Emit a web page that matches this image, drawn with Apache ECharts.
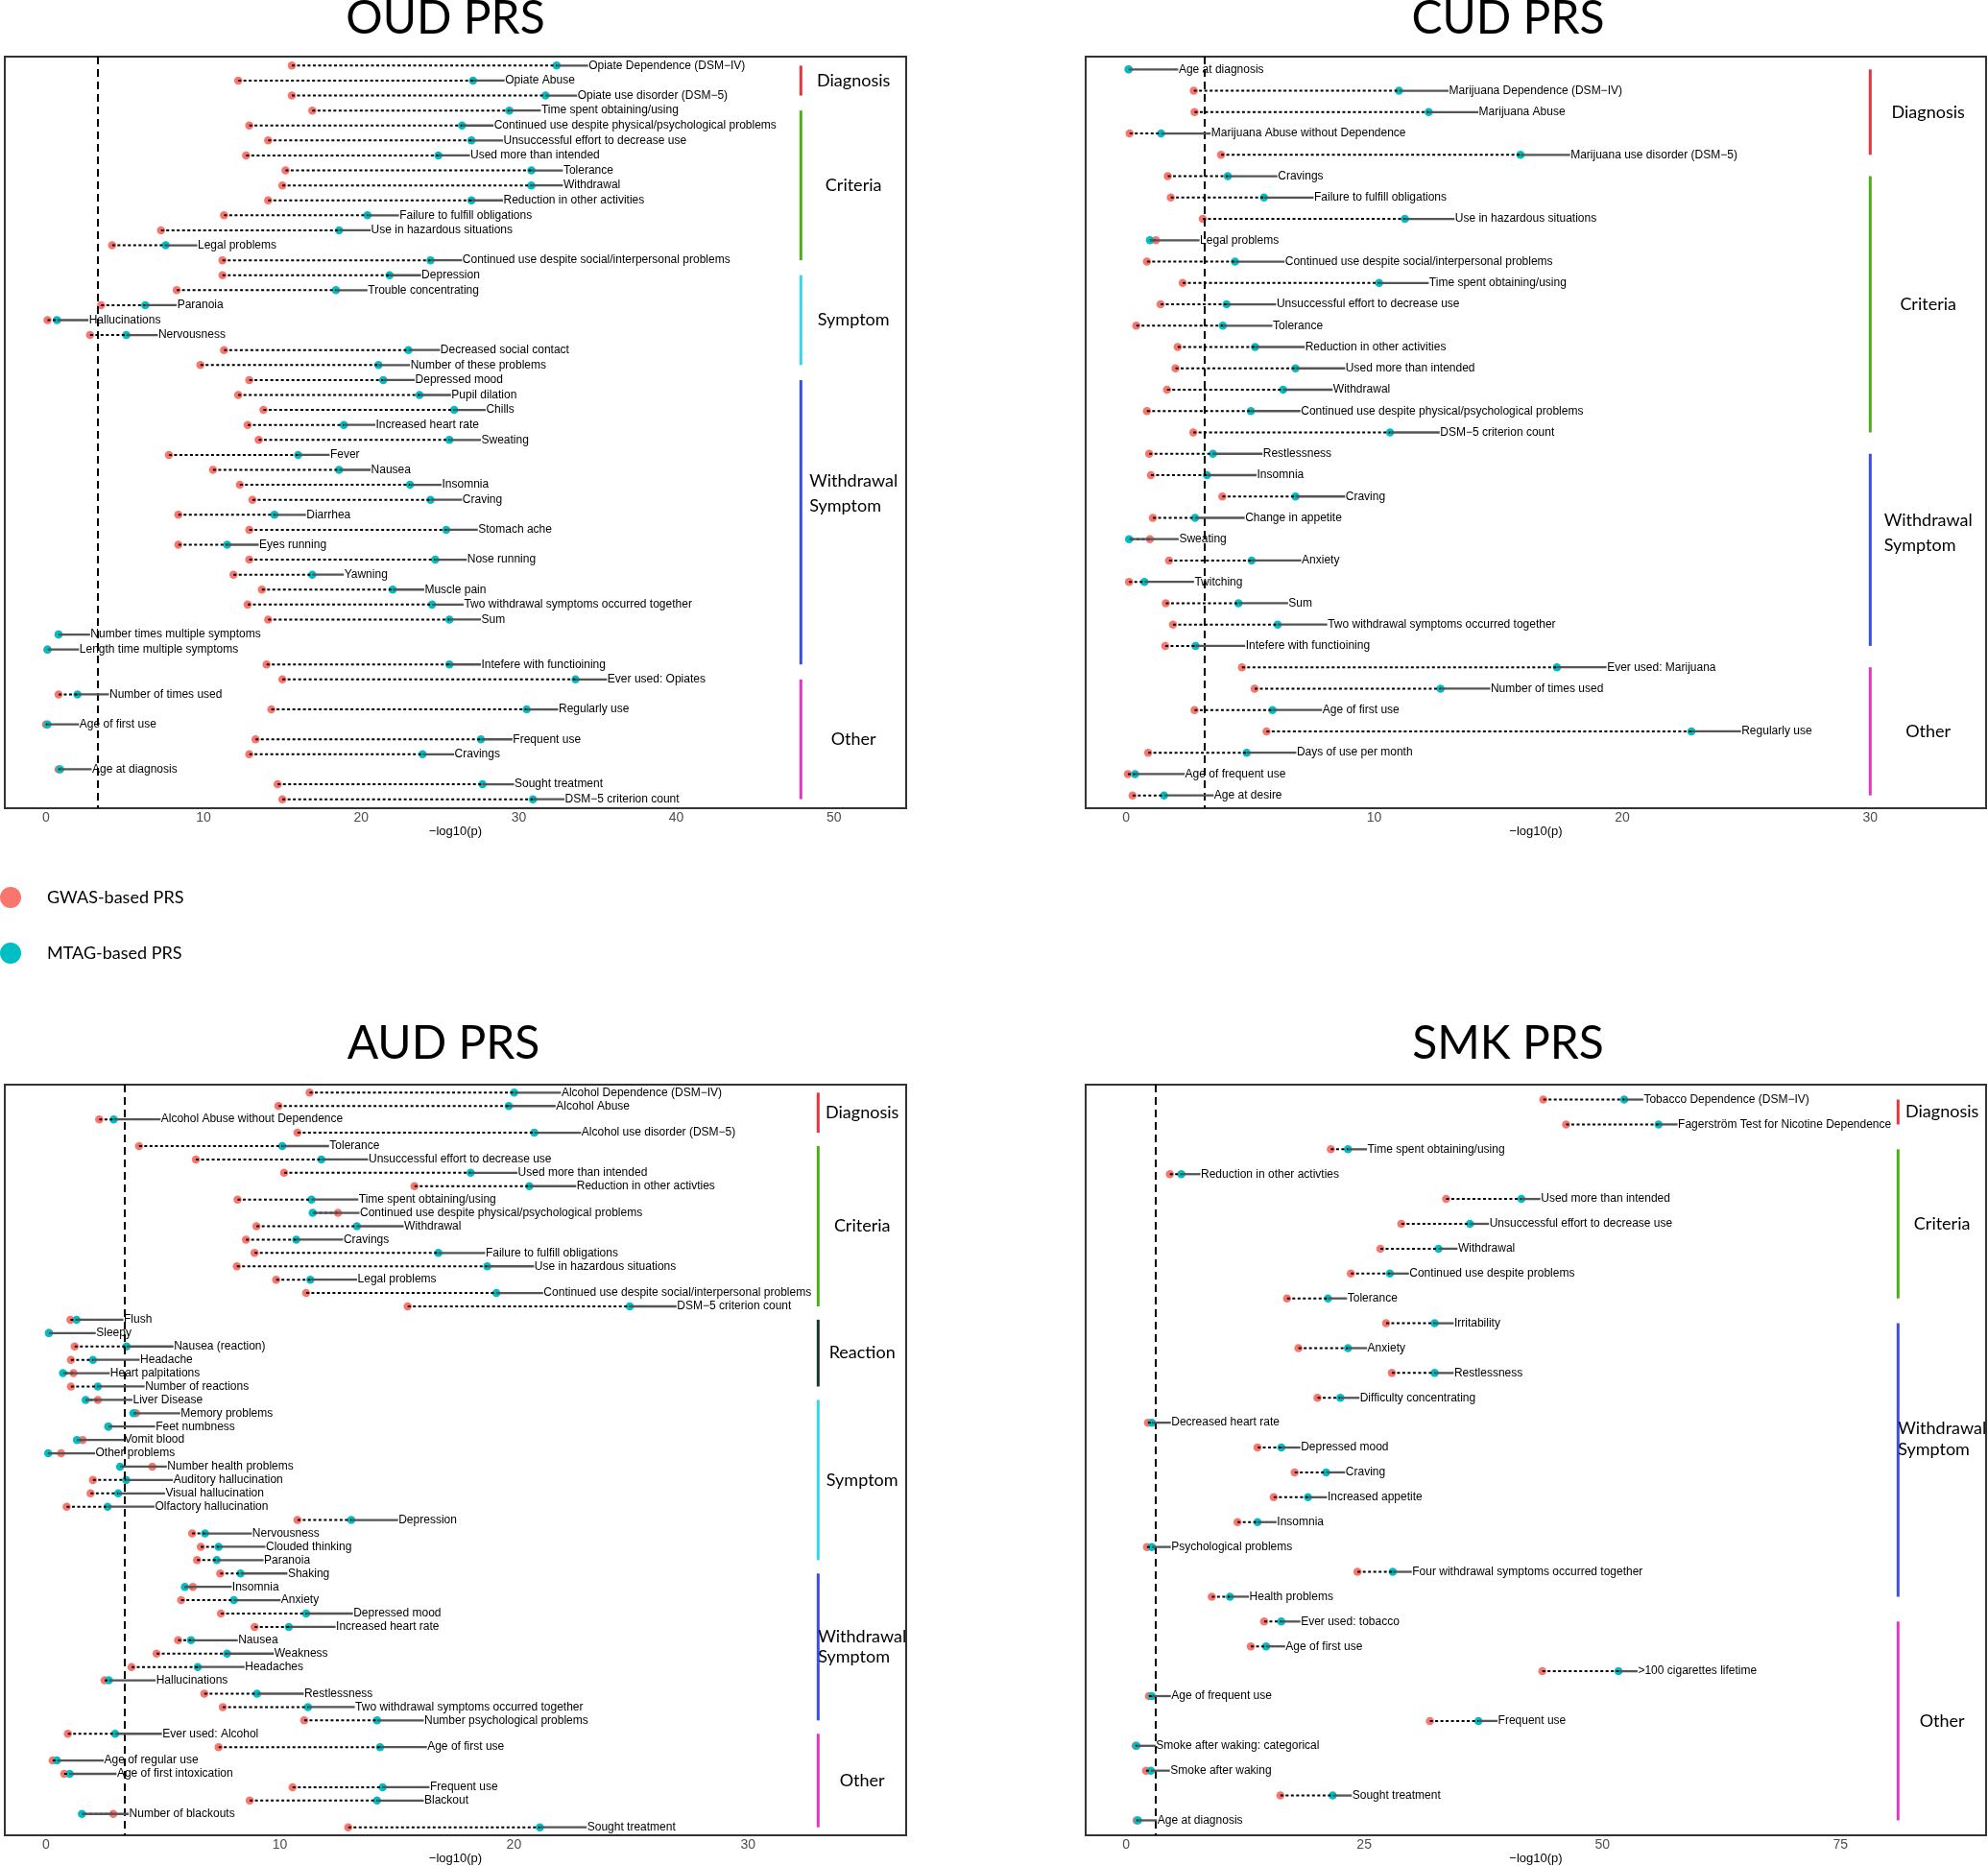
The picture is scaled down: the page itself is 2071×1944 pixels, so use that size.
<!DOCTYPE html>
<html><head><meta charset="utf-8">
<script src="https://cdn.jsdelivr.net/npm/echarts@6/dist/echarts.min.js"></script>
<style>html,body{margin:0;padding:0;background:#fff}#c{width:2071px;height:1944px}</style>
</head><body><div id="c"></div>
<script>
// ---------------- DATA ----------------
const OUD_LABELS = ['Opiate Dependence (DSM−IV)','Opiate Abuse','Opiate use disorder (DSM−5)','Time spent obtaining/using','Continued use despite physical/psychological problems','Unsuccessful effort to decrease use','Used more than intended','Tolerance','Withdrawal','Reduction in other activities','Failure to fulfill obligations','Use in hazardous situations','Legal problems','Continued use despite social/interpersonal problems','Depression','Trouble concentrating','Paranoia','Hallucinations','Nervousness','Decreased social contact','Number of these problems','Depressed mood','Pupil dilation','Chills','Increased heart rate','Sweating','Fever','Nausea','Insomnia','Craving','Diarrhea','Stomach ache','Eyes running','Nose running','Yawning','Muscle pain','Two withdrawal symptoms occurred together','Sum','Number times multiple symptoms','Length time multiple symptoms','Intefere with functioining','Ever used: Opiates','Number of times used','Regularly use','Age of first use','Frequent use','Cravings','Age at diagnosis','Sought treatment','DSM−5 criterion count'];
const OUD_GWAS = [15.6,12.2,15.6,16.9,12.9,14.1,12.7,15.2,15.0,14.1,11.3,7.3,4.2,11.2,11.2,8.3,3.5,0.1,2.8,11.3,9.8,12.9,12.2,13.8,12.8,13.5,7.8,10.6,12.3,13.1,8.4,12.9,8.4,12.9,11.9,13.7,12.8,14.1,0.8,0.1,14.0,15.0,0.8,14.3,0.0,13.3,12.9,0.8,14.7,15.0];
const OUD_MTAG = [32.4,27.1,31.7,29.4,26.4,27.0,24.9,30.8,30.8,27.0,20.4,18.6,7.6,24.4,21.8,18.4,6.3,0.7,5.1,23.0,21.1,21.4,23.7,25.9,18.9,25.6,16.0,18.6,23.1,24.4,14.5,25.4,11.5,24.7,16.9,22.0,24.5,25.6,0.8,0.1,25.6,33.6,2.0,30.5,0.1,27.6,23.9,0.9,27.7,30.9];
const OUD_GROUPS = ['Diagnosis','Criteria','Symptom','Withdrawal\nSymptom','Other'];
const OUD_GROUP_FIRST = [0,3,14,21,41];
const OUD_GROUP_LAST = [2,13,20,40,49];
const OUD_TICKS = [0,10,20,30,40,50];

const CUD_LABELS = ['Age at diagnosis','Marijuana Dependence (DSM−IV)','Marijuana Abuse','Marijuana Abuse without Dependence','Marijuana use disorder (DSM−5)','Cravings','Failure to fulfill obligations','Use in hazardous situations','Legal problems','Continued use despite social/interpersonal problems','Time spent obtaining/using','Unsuccessful effort to decrease use','Tolerance','Reduction in other activities','Used more than intended','Withdrawal','Continued use despite physical/psychological problems','DSM−5 criterion count','Restlessness','Insomnia','Craving','Change in appetite','Sweating','Anxiety','Twitching','Sum','Two withdrawal symptoms occurred together','Intefere with functioining','Ever used: Marijuana','Number of times used','Age of first use','Regularly use','Days of use per month','Age of frequent use','Age at desire'];
const CUD_GWAS = [0.1,2.73,2.76,0.14,3.83,1.68,1.8,3.09,1.2,0.84,2.28,1.39,0.41,2.08,1.99,1.65,0.84,2.71,0.93,1.0,3.88,1.08,0.96,1.73,0.12,1.6,1.89,1.58,4.67,5.18,2.76,5.66,0.89,0.07,0.26];
const CUD_MTAG = [0.1,11.0,12.2,1.41,15.9,4.1,5.56,11.24,0.96,4.39,10.2,4.05,3.9,5.2,6.83,6.33,5.03,10.64,3.5,3.26,6.83,2.78,0.12,5.06,0.74,4.53,6.11,2.8,17.37,12.68,5.9,22.79,4.86,0.36,1.53];
const CUD_GROUPS = ['Diagnosis','Criteria','Withdrawal\nSymptom','Other'];
const CUD_GROUP_FIRST = [0,5,18,28];
const CUD_GROUP_LAST = [4,17,27,34];
const CUD_TICKS = [0,10,20,30];

const AUD_LABELS = ['Alcohol Dependence (DSM−IV)','Alcohol Abuse','Alcohol Abuse without Dependence','Alcohol use disorder (DSM−5)','Tolerance','Unsuccessful effort to decrease use','Used more than intended','Reduction in other activties','Time spent obtaining/using','Continued use despite physical/psychological problems','Withdrawal','Cravings','Failure to fulfill obligations','Use in hazardous situations','Legal problems','Continued use despite social/interpersonal problems','DSM−5 criterion count','Flush','Sleepy','Nausea (reaction)','Headache','Heart palpitations','Number of reactions','Liver Disease','Memory problems','Feet numbness','Vomit blood','Other problems','Number health problems','Auditory hallucination','Visual hallucination','Olfactory hallucination','Depression','Nervousness','Clouded thinking','Paranoia','Shaking','Insomnia','Anxiety','Depressed mood','Increased heart rate','Nausea','Weakness','Headaches','Hallucinations','Restlessness','Two withdrawal symptoms occurred together','Number psychological problems','Ever used: Alcohol','Age of first use','Age of regular use','Age of first intoxication','Frequent use','Blackout','Number of blackouts','Sought treatment'];
const AUD_GWAS = [11.27,9.94,2.28,10.75,3.98,6.41,10.18,15.75,8.19,12.48,9.0,8.55,8.92,8.16,9.84,11.12,15.46,1.05,0.13,1.23,1.07,1.18,1.07,2.22,3.85,2.67,1.57,0.65,4.55,2.01,1.91,0.89,10.75,6.25,6.62,6.46,7.45,6.28,5.78,7.48,8.92,5.65,4.73,3.66,2.51,6.77,7.56,11.04,0.94,7.38,0.29,0.78,10.54,8.71,2.88,12.92];
const AUD_MTAG = [20.01,19.78,2.9,20.87,10.1,11.77,18.15,20.66,11.35,11.4,13.29,10.7,16.77,18.86,11.3,19.25,24.95,1.31,0.13,3.45,2.01,0.73,2.22,1.7,3.74,2.67,1.33,0.1,3.17,3.43,3.09,2.64,13.05,6.8,7.38,7.3,8.32,5.94,8.03,11.12,10.38,6.2,7.74,6.49,2.69,9.02,11.2,14.15,2.96,14.28,0.47,1.02,14.39,14.15,1.54,21.11];
const AUD_GROUPS = ['Diagnosis','Criteria','Reaction','Symptom','Withdrawal\nSymptom','Other'];
const AUD_GROUP_FIRST = [0,4,17,23,36,48];
const AUD_GROUP_LAST = [3,16,22,35,47,55];
const AUD_TICKS = [0,10,20,30];

const SMK_LABELS = ['Tobacco Dependence (DSM−IV)','Fagerström Test for Nicotine Dependence','Time spent obtaining/using','Reduction in other activties','Used more than intended','Unsuccessful effort to decrease use','Withdrawal','Continued use despite problems','Tolerance','Irritability','Anxiety','Restlessness','Difficulty concentrating','Decreased heart rate','Depressed mood','Craving','Increased appetite','Insomnia','Psychological problems','Four withdrawal symptoms occurred together','Health problems','Ever used: tobacco','Age of first use','>100 cigarettes lifetime','Age of frequent use','Frequent use','Smoke after waking: categorical','Smoke after waking','Sought treatment','Age at diagnosis'];
const SMK_GWAS = [43.8,46.2,21.5,4.6,33.6,28.9,26.7,23.6,16.9,27.3,18.1,27.9,20.1,2.3,13.8,17.7,15.5,11.7,2.2,24.3,9.0,14.5,13.1,43.7,2.4,31.9,1.0,2.1,16.2,1.1];
const SMK_MTAG = [52.3,55.9,23.3,5.8,41.5,36.1,32.8,27.7,21.2,32.4,23.3,32.4,22.5,2.7,16.3,21.0,19.1,13.8,2.7,28.0,10.9,16.3,14.7,51.7,2.7,37.0,1.1,2.6,21.7,1.25];
const SMK_GROUPS = ['Diagnosis','Criteria','Withdrawal\nSymptom','Other'];
const SMK_GROUP_FIRST = [0,2,9,21];
const SMK_GROUP_LAST = [1,8,20,29];
const SMK_TICKS = [0,25,50,75];

const LEGEND_NAMES = ['GWAS-based PRS','MTAG-based PRS'];

// ---------------- STYLE / LAYOUT ----------------
const RED = '#F8766D', TEAL = '#00BFC4';
const GROUP_COLORS = {'Diagnosis':'#E8343C','Criteria':'#4CAF18','Symptom':'#35D6EA','Withdrawal\nSymptom':'#3B4EE6','Other':'#E535C5','Reaction':'#17382A'};
const LABEL_OFFSET = 2; // data units from MTAG point to label
const ROW_FONT = '12px "Liberation Sans", Arial, sans-serif';
const GROUP_FONT = '18px Lato, sans-serif';

const measureCtx = document.createElement('canvas').getContext('2d');
function textW(t, font){ measureCtx.font = font; return measureCtx.measureText(t).width; }

const panels = [
  {title:'OUD PRS', tx:464, ty:20, labels:OUD_LABELS, gwas:OUD_GWAS, mtag:OUD_MTAG, groups:OUD_GROUPS, gFirst:OUD_GROUP_FIRST, gLast:OUD_GROUP_LAST, ticks:OUD_TICKS,
   grid:{left:5, top:59, width:939, height:783}, xMin:-2.61, xMax:54.58, thr:3.30, bx:47.9, lh:26, wOff:-30},
  {title:'CUD PRS', tx:1571, ty:20, labels:CUD_LABELS, gwas:CUD_GWAS, mtag:CUD_MTAG, groups:CUD_GROUPS, gFirst:CUD_GROUP_FIRST, gLast:CUD_GROUP_LAST, ticks:CUD_TICKS,
   grid:{left:1131, top:59, width:938, height:783}, xMin:-1.63, xMax:34.67, thr:3.16, bx:30.0, lh:26, wOff:-18},
  {title:'AUD PRS', tx:462, ty:1088, labels:AUD_LABELS, gwas:AUD_GWAS, mtag:AUD_MTAG, groups:AUD_GROUPS, gFirst:AUD_GROUP_FIRST, gLast:AUD_GROUP_LAST, ticks:AUD_TICKS,
   grid:{left:5, top:1130, width:939, height:783}, xMin:-1.755, xMax:36.76, thr:3.35, bx:33.0, lh:21, wOff:0},
  {title:'SMK PRS', tx:1571, ty:1088, labels:SMK_LABELS, gwas:SMK_GWAS, mtag:SMK_MTAG, groups:SMK_GROUPS, gFirst:SMK_GROUP_FIRST, gLast:SMK_GROUP_LAST, ticks:SMK_TICKS,
   grid:{left:1131, top:1130, width:938, height:783}, xMin:-4.24, xMax:90.29, thr:3.11, bx:81.05, lh:22, wOff:-22}
];

const grids = [], xAxes = [], yAxes = [], series = [], graphics = [];
panels.forEach((p, i) => {
  const n = p.labels.length;
  grids.push(Object.assign({show:true, borderColor:'#333', borderWidth:2, backgroundColor:'transparent'}, p.grid));
  xAxes.push({type:'value', gridIndex:i, min:p.xMin, max:p.xMax,
    axisLine:{show:false}, axisTick:{show:false}, splitLine:{show:false},
    axisLabel:{customValues:p.ticks, color:'#4D4D4D', fontSize:14, margin:3, fontFamily:'Liberation Sans'},
    name:'−log10(p)', nameLocation:'middle', nameGap:18,
    nameTextStyle:{color:'#000', fontSize:13, fontFamily:'Liberation Sans'}});
  yAxes.push({type:'value', gridIndex:i, min:-0.6, max:n - 0.4, inverse:true, show:false});
  series.push({name:LEGEND_NAMES[0], type:'scatter', xAxisIndex:i, yAxisIndex:i, symbolSize:8.5,
    itemStyle:{color:RED, opacity:1}, z:2, silent:true,
    data:p.gwas.map((v, j) => [v, j]),
    markLine:{silent:true, symbol:'none', label:{show:false}, animation:false,
      lineStyle:{color:'#000', width:2, type:[8,5]}, data:[{xAxis:p.thr}]}});
  series.push({name:LEGEND_NAMES[1], type:'scatter', xAxisIndex:i, yAxisIndex:i, symbolSize:8.5,
    itemStyle:{color:TEAL, opacity:1}, z:3, silent:true,
    data:p.mtag.map((v, j) => [v, j])});
  const labels = p.labels;
  series.push({type:'custom', xAxisIndex:i, yAxisIndex:i, z:5, silent:true,
    data:p.gwas.map((v, j) => [v, p.mtag[j], j]), encode:{x:[0,1], y:2},
    renderItem:(params, api) => {
      const g = api.value(0), m = api.value(1), j = api.value(2);
      const pr = api.coord([g, j]), pt = api.coord([m, j]), pl = api.coord([m + LABEL_OFFSET, j]);
      return {type:'group', children:[
        {type:'line', shape:{x1:pr[0], y1:pr[1], x2:pt[0], y2:pt[1]}, style:{stroke:'#000', lineWidth:2, lineDash:[3,2.5]}},
        {type:'line', shape:{x1:pt[0], y1:pt[1], x2:pl[0], y2:pl[1]}, style:{stroke:'#555', lineWidth:2.3}},
        {type:'text', x:pl[0] + 0.5, y:pl[1], style:{text:labels[j], font:ROW_FONT, fill:'#000', align:'left', verticalAlign:'middle'}}
      ]};
    }});
  const groups = p.groups;
  series.push({type:'custom', xAxisIndex:i, yAxisIndex:i, z:5, silent:true,
    data:p.gFirst.map((f, k) => [f, p.gLast[k], k]), encode:{x:-1, y:-1},
    renderItem:(params, api) => {
      const f = api.value(0), l = api.value(1), k = api.value(2);
      const p1 = api.coord([p.bx, f]), p2 = api.coord([p.bx, l]);
      const cs = params.coordSys;
      const right = cs.x + cs.width;
      const cx = (p1[0] + right) / 2;
      const name = groups[k];
      const lines = name.split('\n');
      let cy = (p1[1] + p2[1]) / 2;
      const maxW = Math.max.apply(null, lines.map(t => textW(t, GROUP_FONT)));
      if (lines.length > 1) cy += p.wOff;
      return {type:'group', children:[
        {type:'line', shape:{x1:p1[0], y1:p1[1], x2:p2[0], y2:p2[1]}, style:{stroke:GROUP_COLORS[name], lineWidth:3}},
        {type:'text', x:cx - maxW / 2, y:cy, style:{text:name, font:GROUP_FONT, fill:'#000', align:'left', verticalAlign:'middle', lineHeight:p.lh}}
      ]};
    }});
  graphics.push({type:'text', x:p.tx, y:p.ty, style:{text:p.title, font:'48px Lato, sans-serif', fill:'#000', align:'center', verticalAlign:'middle'}});
});

const chart = echarts.init(document.getElementById('c'), null, {renderer:'canvas'});
chart.setOption({
  animation:false,
  backgroundColor:'#fff',
  grid:grids, xAxis:xAxes, yAxis:yAxes, series:series,
  graphic:graphics,
  legend:{data:LEGEND_NAMES, orient:'vertical', left:0, top:924, padding:0, itemWidth:22, itemHeight:22, itemGap:36,
    icon:'circle', selectedMode:false,
    textStyle:{fontFamily:'Lato', fontSize:18, color:'#000', padding:[0,0,0,22]}}
});
</script></body></html>
